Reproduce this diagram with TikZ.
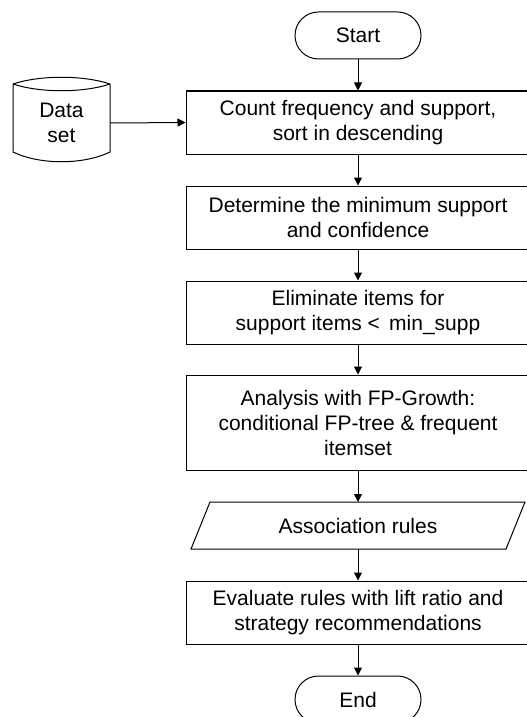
\documentclass[tikz,border=0pt]{standalone}
\usepackage{fontspec}
\setmainfont{Liberation Sans}
\usetikzlibrary{arrows.meta}
\tikzset{
  base/.style={font=\fontsize{15.75pt}{18.75pt}\selectfont, align=center, inner sep=0pt},
  procbox/.style={base, draw, line width=0.75pt, minimum width=258pt, minimum height=47.25pt},
  term/.style={base, draw, line width=0.75pt, minimum width=94.5pt, minimum height=35.25pt, rounded corners=17.6pt},
  plain/.style={base},
  flow/.style={line width=0.75pt, -{Triangle[length=6pt,width=6pt]}},
  shapeline/.style={line width=0.75pt}
}
\begin{document}
\begin{tikzpicture}[x=0.75pt,y=-0.75pt]
\useasboundingbox (0,0) rectangle (526,717);
% terminals
\node[term] (start) at (358,35.5) {Start};
\node[term] (end) at (358,699.5) {End};
% process boxes
\node[procbox] (count) at (358,122.5) {Count frequency and support,\\sort in descending};
\node[procbox] (determine) at (358,217.5) {Determine the minimum support\\and confidence};
\node[procbox] (elim) at (358,312.5) {Eliminate items for\\support items <\, min\_supp};
\node[procbox, minimum height=71.25pt] (analysis) at (358,422.5) {Analysis with FP-Growth:\\conditional FP-tree \& frequent\\itemset};
\node[procbox] (evaluate) at (358,612.5) {Evaluate rules with lift ratio and\\strategy recommendations};
% parallelogram
\node[plain, minimum width=236.25pt, minimum height=35.25pt] (assoc) at (358,525.5) {Association rules};
\draw[shapeline] (210,502) -- (525,502) -- (506,549) -- (191,549) -- cycle;
% data set cylinder
\node[plain, minimum width=72.75pt, minimum height=51pt] (data) at (61.5,123) {Data\\set};
\draw[shapeline] (13,84) .. controls (40,75) and (83,75) .. (110,84);
\draw[shapeline] (13,84) .. controls (40,93) and (83,93) .. (110,84);
\draw[shapeline] (13,84) -- (13,152) .. controls (40,165) and (83,165) .. (110,152) -- (110,84);
% connectors
\draw[flow] (data.east) -- (count.west);
\draw[flow] (start) -- (count);
\draw[flow] (count) -- (determine);
\draw[flow] (determine) -- (elim);
\draw[flow] (elim) -- (analysis);
\draw[flow] (analysis.south) -- (358,502);
\draw[flow] (358,549) -- (evaluate.north);
\draw[flow] (evaluate) -- (end);
\end{tikzpicture}
\end{document}
